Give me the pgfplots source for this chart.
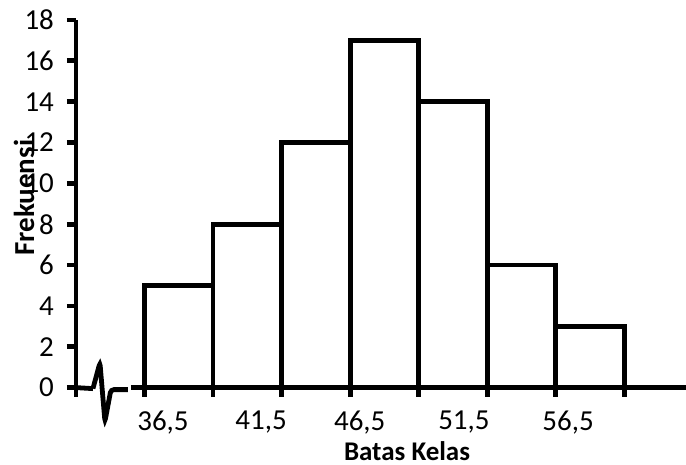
\documentclass[border=0pt]{standalone}
\usepackage{pgfplots}
\pgfplotsset{compat=1.18}
\usepackage{fontspec}
\setmainfont{Carlito}
\begin{document}
\begin{tikzpicture}
\begin{axis}[
  scale only axis,
  width=305.3pt, height=183.96pt,
  xmin=0, xmax=8.9, ymin=0, ymax=18,
  clip=false,
  axis lines*=left,
  axis line style={-, line width=2.4pt, black},
  x axis line style={draw=none},
  tick style={line width=2.4pt, black},
  major tick length=4.5pt,
  tick align=outside,
  xtick={0,1,...,8},
  xticklabels={},
  ytick={0,2,...,18},
  extra x ticks={1.27,2.70,4.14,5.66,7.18},
  extra x tick labels={{36,5},{41,5},{46,5},{51,5},{56,5}},
  extra x tick style={major tick length=0pt, tick style={draw=none},
     tick label style={yshift=-8pt}},
  /pgf/number format/assume math mode=true,
  tick label style={font=\fontsize{14.5}{16}\selectfont, black},
  yticklabel style={xshift=-3pt},
]
\addplot[ybar interval, fill=white, draw=black, line width=2.4pt]
  coordinates {(1,5)(2,8)(3,12)(4,17)(5,14)(6,6)(7,3)(8,0)};
% x axis line with break mark
\draw[line width=2.4pt] (axis cs:0,0) -- (axis cs:0.248,-0.05);
\draw[line width=2.4pt, rounded corners=1.5pt] (axis cs:0.248,-0.05) -- (axis cs:0.35,1.22) -- (axis cs:0.423,-1.66) -- (axis cs:0.51,-0.1) -- (axis cs:0.758,-0.1);
\draw[line width=2.4pt] (axis cs:0.80,0) -- (axis cs:8.9,0);
\node[rotate=90, font=\bfseries\fontsize{14.5}{16}\selectfont] at (axis cs:-0.758,9.30) {Frekuensi};
\node[font=\bfseries\fontsize{13.5}{15}\selectfont] at (axis cs:4.83,-3.13) {Batas Kelas};
\coordinate (BL) at (axis cs:-1.108,-3.767);
\coordinate (TR) at (axis cs:8.9,18.98);
\end{axis}
\pgfresetboundingbox
\path[use as bounding box] (BL) rectangle (TR);
\end{tikzpicture}
\end{document}
